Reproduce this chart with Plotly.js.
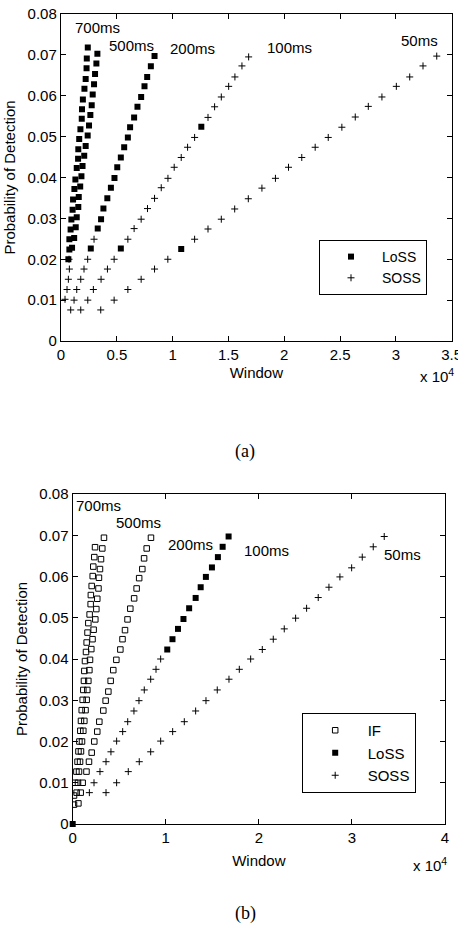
<!DOCTYPE html>
<html>
<head>
<meta charset="utf-8">
<script src="https://cdn.plot.ly/plotly-3.0.1.min.js"></script>
<style>
  html, body { margin: 0; padding: 0; background: #ffffff; }
  #chart { width: 458px; height: 928px; }
</style>
</head>
<body>
<div id="chart"></div>
<script>
// ---------------------------------------------------------------------------
// Probability of detection versus window size, per sampling period.
// Window values are raw counts (axis shown in units of 10^4).
// ---------------------------------------------------------------------------

// Panel (a) — LoSS points, grouped by period
const aLoss700W = [2400, 2310, 2290, 2210, 2100, 1960, 1880, 1860, 1740, 1630, 1550, 1530, 1410, 1290, 1200, 1080, 1040, 930, 860, 750, 750, 660];
const aLoss700P = [0.0718, 0.0691, 0.0667, 0.0641, 0.0617, 0.0591, 0.0567, 0.0544, 0.0518, 0.0494, 0.0469, 0.0446, 0.0423, 0.0395, 0.0372, 0.0346, 0.0321, 0.0297, 0.0273, 0.0249, 0.0224, 0.0200];
const aLoss500W = [3260, 3170, 3050, 2960, 2840, 2750, 2630, 2510, 2390, 2210, 2080, 1930, 1830, 1720, 1590, 1550, 1410, 1320, 1180, 990];
const aLoss500P = [0.0703, 0.0679, 0.0653, 0.0628, 0.0603, 0.0577, 0.0553, 0.0527, 0.0503, 0.0477, 0.0453, 0.0428, 0.0403, 0.0378, 0.0352, 0.0328, 0.0303, 0.0278, 0.0252, 0.0228];
const aLoss200W = [8380, 8050, 7720, 7480, 7180, 6850, 6550, 6190, 5990, 5660, 5360, 5040, 4790, 4470, 4150, 3800, 3590, 3290, 2670];
const aLoss200P = [0.0697, 0.0672, 0.0646, 0.0623, 0.0597, 0.0573, 0.0547, 0.0523, 0.0498, 0.0474, 0.0449, 0.0425, 0.0399, 0.0375, 0.0349, 0.0324, 0.0298, 0.0275, 0.0226];
const aLoss100W = [5360, 12570];
const aLoss100P = [0.0226, 0.0524];
const aLoss50W = [10770];
const aLoss50P = [0.0225];

// Panel (a) — SOSS points, grouped by period
const aSoss500W = [720, 750, 660, 540, 360];
const aSoss500P = [0.0200, 0.0176, 0.0151, 0.0126, 0.0102];
const aSoss200W = [2960, 2390, 2060, 1770, 1410, 1170, 870];
const aSoss200P = [0.0249, 0.0200, 0.0176, 0.0151, 0.0126, 0.0100, 0.0076];
const aSoss100W = [1770, 2400, 2900, 3590, 4160, 4760, 5990, 6550, 7180, 7750, 8380, 8980, 9580, 10140, 10770, 11340, 11970, 13170, 13760, 14360, 15020, 15580, 16210, 16810];
const aSoss100P = [0.0076, 0.0100, 0.0126, 0.0151, 0.0176, 0.0200, 0.0249, 0.0275, 0.0298, 0.0324, 0.0349, 0.0375, 0.0398, 0.0425, 0.0449, 0.0474, 0.0498, 0.0547, 0.0573, 0.0597, 0.0623, 0.0646, 0.0673, 0.0695];
const aSoss50W = [3560, 4760, 5990, 7180, 8380, 9570, 11970, 13170, 14360, 15560, 16780, 18000, 19210, 20380, 21570, 22770, 23940, 25160, 26360, 27530, 28750, 30040, 31240, 32430, 33660];
const aSoss50P = [0.0076, 0.0100, 0.0126, 0.0151, 0.0176, 0.0200, 0.0249, 0.0274, 0.0298, 0.0323, 0.0348, 0.0374, 0.0398, 0.0425, 0.0449, 0.0474, 0.0498, 0.0523, 0.0548, 0.0574, 0.0597, 0.0623, 0.0646, 0.0673, 0.0697];

// Panel (b) — IF points, grouped by period
const bIf700W = [2400, 2320, 2210, 2150, 2040, 1950, 1930, 1820, 1680, 1590, 1500, 1430, 1320, 1250, 1210, 1140, 1070, 970, 890, 820, 720, 620, 520, 400, 270, 140, 140];
const bIf700P = [0.0671, 0.0647, 0.0624, 0.0601, 0.0577, 0.0555, 0.0533, 0.0508, 0.0487, 0.0464, 0.0440, 0.0417, 0.0395, 0.0371, 0.0347, 0.0325, 0.0301, 0.0276, 0.0250, 0.0226, 0.0200, 0.0176, 0.0151, 0.0127, 0.0100, 0.0069, 0.0047];
const bIf500W = [3360, 3180, 3040, 2930, 2820, 2770, 2640, 2540, 2430, 2250, 2130, 2000, 1860, 1790, 1680, 1570, 1500, 1380, 1250, 1140, 1000, 890, 790, 680, 570, 420, 610];
const bIf500P = [0.0694, 0.0668, 0.0642, 0.0618, 0.0597, 0.0571, 0.0546, 0.0521, 0.0496, 0.0471, 0.0448, 0.0424, 0.0398, 0.0373, 0.0347, 0.0325, 0.0301, 0.0276, 0.0250, 0.0226, 0.0200, 0.0176, 0.0151, 0.0127, 0.0100, 0.0076, 0.0050];
const bIf200W = [8410, 7950, 7670, 7480, 7140, 6870, 6600, 6190, 5890, 5620, 5350, 5120, 4690, 4360, 4080, 3830, 3540, 3290, 2860, 2640, 2320, 2040, 1750, 1480, 1070, 860];
const bIf200P = [0.0694, 0.0668, 0.0644, 0.0618, 0.0596, 0.0571, 0.0547, 0.0522, 0.0496, 0.0470, 0.0448, 0.0423, 0.0398, 0.0373, 0.0347, 0.0321, 0.0299, 0.0275, 0.0248, 0.0224, 0.0200, 0.0173, 0.0151, 0.0127, 0.0100, 0.0076];

// Panel (b) — LoSS points
const bLossOriginW = [0];
const bLossOriginP = [0];
const bLoss100W = [10160, 10720, 11310, 11900, 12510, 13210, 13750, 14310, 14960, 15600, 16110, 16750];
const bLoss100P = [0.0423, 0.0448, 0.0473, 0.0497, 0.0523, 0.0548, 0.0574, 0.0599, 0.0622, 0.0647, 0.0672, 0.0697];

// Panel (b) — SOSS points
const bSoss100W = [1790, 2290, 2930, 3580, 4110, 4720, 5370, 5910, 6580, 7120, 7690, 8380, 8950, 9450];
const bSoss100P = [0.0076, 0.0100, 0.0127, 0.0151, 0.0175, 0.0201, 0.0224, 0.0248, 0.0274, 0.0299, 0.0325, 0.0351, 0.0375, 0.0400];
const bSoss50W = [3580, 4720, 5970, 7150, 8380, 9450, 10740, 11990, 13210, 14320, 15530, 16790, 17900, 19120, 20370, 21550, 22730, 23950, 25130, 26380, 27530, 28710, 29970, 31110, 32290, 33470];
const bSoss50P = [0.0076, 0.0100, 0.0127, 0.0151, 0.0175, 0.0201, 0.0224, 0.0248, 0.0274, 0.0299, 0.0325, 0.0351, 0.0375, 0.0400, 0.0423, 0.0448, 0.0473, 0.0499, 0.0523, 0.0549, 0.0574, 0.0599, 0.0621, 0.0647, 0.0672, 0.0697];

// Axis ticks and labels
const aWindowTicks = [0, 5000, 10000, 15000, 20000, 25000, 30000, 35000];
const aWindowLabels = ['0', '0.5', '1', '1.5', '2', '2.5', '3', '3.5'];
const bWindowTicks = [0, 10000, 20000, 30000, 40000];
const bWindowLabels = ['0', '1', '2', '3', '4'];
const probTicks = [0, 0.01, 0.02, 0.03, 0.04, 0.05, 0.06, 0.07, 0.08];
const probLabels = ['0', '0.01', '0.02', '0.03', '0.04', '0.05', '0.06', '0.07', '0.08'];
const periodNames = ['700ms', '500ms', '200ms', '100ms', '50ms'];

// ---------------------------------------------------------------------------
const FONT = '"Liberation Sans", Arial, Helvetica, sans-serif';
const SERIF = '"Liberation Serif", "Times New Roman", serif';
const W = 458, H = 928;
const px = v => v / W;            // horizontal pixel -> paper fraction
const py = v => 1 - v / H;        // vertical pixel -> paper fraction

const lossMarker = { symbol: 'square', size: 6, color: '#000' };
const sossMarker = { symbol: 'cross-thin', size: 5, color: '#000', line: { color: '#000', width: 1 } };
const ifMarker = { symbol: 'square-open', size: 5.5, color: '#000', line: { color: '#000', width: 1 } };

const cat = (...arrs) => [].concat(...arrs);

const traces = [
  // panel (a)
  {
    type: 'scatter', mode: 'markers', name: 'LoSS', xaxis: 'x', yaxis: 'y', legend: 'legend',
    x: cat(aLoss700W, aLoss500W, aLoss200W, aLoss100W, aLoss50W),
    y: cat(aLoss700P, aLoss500P, aLoss200P, aLoss100P, aLoss50P),
    marker: lossMarker
  },
  {
    type: 'scatter', mode: 'markers', name: 'SOSS', xaxis: 'x', yaxis: 'y', legend: 'legend',
    x: cat(aSoss500W, aSoss200W, aSoss100W, aSoss50W),
    y: cat(aSoss500P, aSoss200P, aSoss100P, aSoss50P),
    marker: sossMarker
  },
  // panel (b)
  {
    type: 'scatter', mode: 'markers', name: 'IF', xaxis: 'x2', yaxis: 'y2', legend: 'legend2',
    x: cat(bIf700W, bIf500W, bIf200W),
    y: cat(bIf700P, bIf500P, bIf200P),
    marker: ifMarker
  },
  {
    type: 'scatter', mode: 'markers', name: 'LoSS', xaxis: 'x2', yaxis: 'y2', legend: 'legend2',
    x: cat(bLossOriginW, bLoss100W),
    y: cat(bLossOriginP, bLoss100P),
    marker: lossMarker, cliponaxis: false
  },
  {
    type: 'scatter', mode: 'markers', name: 'SOSS', xaxis: 'x2', yaxis: 'y2', legend: 'legend2',
    x: cat(bSoss100W, bSoss50W),
    y: cat(bSoss100P, bSoss50P),
    marker: sossMarker
  }
];

function axisBase(extra) {
  return Object.assign({
    showline: true, mirror: 'ticks', linecolor: '#000', linewidth: 1.2,
    ticks: 'inside', ticklen: 5, tickwidth: 1, tickcolor: '#000',
    showgrid: false, zeroline: false, fixedrange: true,
    tickmode: 'array', tickfont: { family: FONT, size: 15, color: '#000' }
  }, extra);
}

const titleFont = { family: FONT, size: 15, color: '#000' };
const periodLabelFont = { family: FONT, size: 15, color: '#000' };
function periodLabel(text, x, y, xref, yref) {
  return { text, x, y, xref, yref, showarrow: false, font: periodLabelFont, xanchor: 'center', yanchor: 'middle' };
}

const layout = {
  width: W, height: H,
  margin: { l: 0, r: 0, t: 0, b: 0 },
  paper_bgcolor: '#fff', plot_bgcolor: '#fff',
  font: { family: FONT, size: 15, color: '#000' },
  showlegend: true,

  xaxis: axisBase({
    domain: [px(61), px(451.7)], anchor: 'y', range: [0, 35000],
    tickvals: aWindowTicks, ticktext: aWindowLabels, ticklabeloverflow: 'allow',
    title: { text: 'Window', font: titleFont, standoff: 5 }
  }),
  yaxis: axisBase({
    domain: [py(341), py(14)], anchor: 'x', range: [0, 0.08],
    tickvals: probTicks, ticktext: probLabels,
    title: { text: 'Probability of Detection', font: titleFont, standoff: 8 }
  }),
  xaxis2: axisBase({
    domain: [px(72.7), px(445)], anchor: 'y2', range: [0, 40000],
    tickvals: bWindowTicks, ticktext: bWindowLabels, ticklabeloverflow: 'allow',
    title: { text: 'Window', font: titleFont, standoff: 10 }
  }),
  yaxis2: axisBase({
    domain: [py(824), py(494)], anchor: 'x2', range: [0, 0.08],
    tickvals: probTicks, ticktext: probLabels,
    title: { text: 'Probability of Detection', font: titleFont, standoff: 8 }
  }),

  legend: {
    x: px(319), y: py(240), xanchor: 'left', yanchor: 'top',
    bgcolor: '#fff', bordercolor: '#000', borderwidth: 1,
    font: { family: FONT, size: 14, color: '#000' },
    itemwidth: 52
  },
  legend2: {
    x: px(301.7), y: py(713), xanchor: 'left', yanchor: 'top',
    bgcolor: '#fff', bordercolor: '#000', borderwidth: 1,
    font: { family: FONT, size: 15, color: '#000' },
    itemwidth: 55
  },

  annotations: [
    // period labels, panel (a)
    periodLabel(periodNames[0], 3232, 0.0767, 'x', 'y'),
    periodLabel(periodNames[1], 6346, 0.0724, 'x', 'y'),
    periodLabel(periodNames[2], 11786, 0.0716, 'x', 'y'),
    periodLabel(periodNames[3], 20512, 0.0718, 'x', 'y'),
    periodLabel(periodNames[4], 32092, 0.0734, 'x', 'y'),
    // period labels, panel (b)
    periodLabel(periodNames[0], 2804, 0.0773, 'x2', 'y2'),
    periodLabel(periodNames[1], 7100, 0.0731, 'x2', 'y2'),
    periodLabel(periodNames[2], 12685, 0.0678, 'x2', 'y2'),
    periodLabel(periodNames[3], 20795, 0.0664, 'x2', 'y2'),
    periodLabel(periodNames[4], 35478, 0.0653, 'x2', 'y2'),
    // axis multipliers
    { text: 'x 10<sup>4</sup>', xref: 'paper', yref: 'paper', x: px(456), y: py(387), xanchor: 'right', yanchor: 'bottom',
      showarrow: false, font: titleFont },
    { text: 'x 10<sup>4</sup>', xref: 'paper', yref: 'paper', x: px(449), y: py(876), xanchor: 'right', yanchor: 'bottom',
      showarrow: false, font: titleFont },
    // panel captions
    { text: '(a)', xref: 'paper', yref: 'paper', x: px(245.5), y: py(452), xanchor: 'center', yanchor: 'middle',
      showarrow: false, font: { family: SERIF, size: 18, color: '#000' } },
    { text: '(b)', xref: 'paper', yref: 'paper', x: px(245.5), y: py(913), xanchor: 'center', yanchor: 'middle',
      showarrow: false, font: { family: SERIF, size: 18, color: '#000' } }
  ]
};

Plotly.newPlot('chart', traces, layout, { staticPlot: true, displayModeBar: false });
</script>
</body>
</html>
